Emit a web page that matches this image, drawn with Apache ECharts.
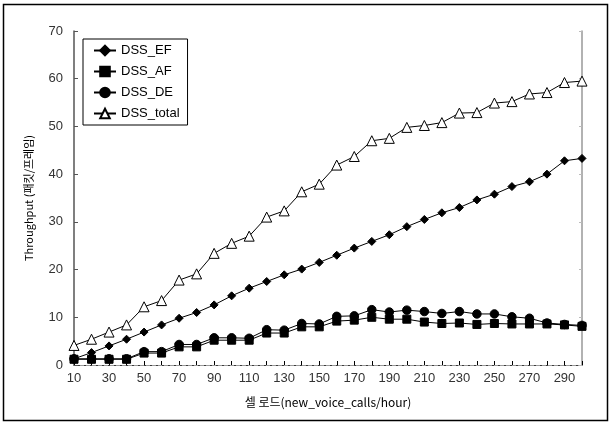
<!DOCTYPE html>
<html>
<head>
<meta charset="utf-8">
<script src="https://cdn.jsdelivr.net/npm/echarts@6/dist/echarts.min.js"></script>
<style>html,body{margin:0;padding:0;background:#fff;}#c{width:610px;height:423px;}</style>
</head>
<body>
<div id="c"></div>
<script>
const categories = ['10','20','30','40','50','60','70','80','90','100','110','120','130','140','150','160','170','180','190','200','210','220','230','240','250','260','270','280','290','300'];
const dssEF = [1.3, 2.6, 4.0, 5.4, 6.9, 8.4, 9.8, 11.0, 12.6, 14.5, 16.1, 17.5, 18.9, 20.1, 21.5, 23.0, 24.5, 25.9, 27.3, 29.0, 30.5, 31.9, 33.0, 34.6, 35.8, 37.4, 38.4, 40.0, 42.8, 43.3];
const dssAF = [1.2, 1.2, 1.2, 1.2, 2.5, 2.5, 3.8, 3.8, 5.2, 5.2, 5.2, 6.7, 6.7, 8.0, 8.0, 9.2, 9.4, 10.0, 9.6, 9.6, 9.0, 8.7, 8.8, 8.5, 8.7, 8.6, 8.6, 8.6, 8.4, 8.1];
const dssDE = [1.3, 1.3, 1.3, 1.3, 2.8, 2.8, 4.3, 4.3, 5.7, 5.7, 5.6, 7.4, 7.3, 8.7, 8.6, 10.2, 10.3, 11.6, 11.1, 11.5, 11.2, 10.8, 11.2, 10.7, 10.7, 10.1, 9.8, 8.8, 8.5, 8.3];
const dssTotal = [4.1, 5.4, 6.9, 8.4, 12.2, 13.5, 17.8, 19.1, 23.4, 25.5, 27.0, 31.0, 32.3, 36.3, 37.9, 41.9, 43.7, 47.0, 47.5, 49.8, 50.2, 50.8, 52.8, 52.9, 54.9, 55.2, 56.8, 57.1, 59.2, 59.5];
const seriesNames = ['DSS_EF', 'DSS_AF', 'DSS_DE', 'DSS_total'];
const xAxisTitle = '셀 로드(new_voice_calls/hour)';
const yAxisTitle = 'Throughput (패킷/프레임)';

const font = '"Liberation Sans", Arial, sans-serif';
const chart = echarts.init(document.getElementById('c'), null, {renderer: 'canvas'});
function line(name, data, symbol, size, fill) {
  return {
    name: name, type: 'line', data: data, symbol: symbol, symbolSize: size,
    showAllSymbol: true,
    lineStyle: {color: '#000', width: 1},
    itemStyle: {color: fill, borderColor: '#000', borderWidth: 1},
    emphasis: {disabled: true}, animation: false, z: 3
  };
}
chart.setOption({
  animation: false,
  backgroundColor: '#fff',
  graphic: [{type: 'rect', shape: {x: 3.5, y: 4.5, width: 604, height: 416}, style: {fill: 'none', stroke: '#000', lineWidth: 1.5}, z: 0}],
  grid: {left: 74, right: 28, top: 31, bottom: 58},
  legend: {
    orient: 'vertical', left: 83, top: 39, padding: [5, 8, 5, 10], itemGap: 8,
    itemWidth: 22, itemHeight: 12,
    borderColor: '#000', borderWidth: 1, backgroundColor: '#fff',
    textStyle: {fontFamily: font, fontSize: 13, color: '#000', padding: [0, 0, 0, 0]},
    data: seriesNames
  },
  xAxis: [{
    type: 'category', data: categories, boundaryGap: false,
    axisLine: {lineStyle: {color: '#000', width: 1}},
    axisTick: {inside: true, length: 4, lineStyle: {color: '#000'}, interval: 0},
    axisLabel: {interval: 1, fontFamily: font, fontSize: 13, color: '#333', margin: 7},
    name: xAxisTitle, nameLocation: 'middle', nameGap: 31,
    nameTextStyle: {fontFamily: '"Noto Sans CJK KR", "Liberation Sans", sans-serif', fontSize: 12, color: '#000'}
  }, {
    type: 'category', data: categories, boundaryGap: false, position: 'top',
    axisLine: {lineStyle: {color: '#999', width: 1, type: 'dashed'}},
    axisTick: {show: false}, axisLabel: {show: false}
  }],
  yAxis: [{
    type: 'value', min: 0, max: 70, interval: 10,
    axisLine: {show: true, lineStyle: {color: '#555', width: 1.5}},
    axisTick: {show: true, inside: true, length: 4, lineStyle: {color: '#555'}},
    splitLine: {show: false},
    axisLabel: {fontFamily: font, fontSize: 13, color: '#333', margin: 11},
    name: yAxisTitle, nameLocation: 'middle', nameGap: 40, nameRotate: 90,
    nameTextStyle: {fontFamily: '"Liberation Sans Narrow", "Noto Sans CJK KR", sans-serif', fontSize: 11, color: '#000'}
  }, {
    type: 'value', min: 0, max: 70, interval: 10, position: 'right',
    axisLine: {show: true, lineStyle: {color: '#999', width: 1.5}},
    axisTick: {show: true, inside: true, length: 3, lineStyle: {color: '#bbb'}},
    axisLabel: {show: false}, splitLine: {show: false}
  }],
  series: [
    line(seriesNames[0], dssEF, 'diamond', 8, '#000'),
    line(seriesNames[1], dssAF, 'rect', 8, '#000'),
    line(seriesNames[2], dssDE, 'circle', 8.5, '#000'),
    line(seriesNames[3], dssTotal, 'triangle', 10, '#fff')
  ]
});
</script>
</body>
</html>
